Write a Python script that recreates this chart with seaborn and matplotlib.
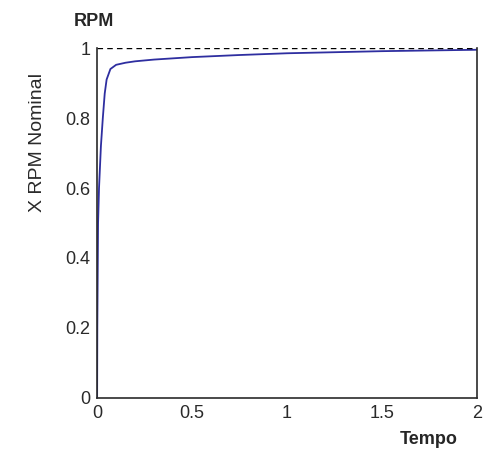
import numpy as np
import pandas as pd
import matplotlib
matplotlib.use("Agg")
import matplotlib.pyplot as plt
import seaborn as sns

# step response
tempo = [0, 0.001, 0.005, 0.01, 0.02, 0.03, 0.04, 0.05, 0.07, 0.1, 0.15, 0.2,
         0.3, 0.5, 0.75, 1.0, 1.25, 1.5, 1.75, 2.0]
rpm = [0, 0.2, 0.5, 0.6, 0.72, 0.8, 0.87, 0.91, 0.94, 0.952, 0.958, 0.962,
       0.967, 0.974, 0.98, 0.985, 0.988, 0.991, 0.993, 0.995]
ref_level = 1.0
xticks = [0, 0.5, 1, 1.5, 2]
yticks = [0, 0.2, 0.4, 0.6, 0.8, 1]

sns.set_style("white")
plt.rcParams["font.family"] = ["Liberation Sans", "DejaVu Sans"]

fig = plt.figure(figsize=(4.93, 4.5), dpi=100)
ax = fig.add_axes([0.197, 0.1156, 0.7705, 0.7777])

df = pd.DataFrame({"Tempo": tempo, "RPM": rpm})
sns.lineplot(data=df, x="Tempo", y="RPM", ax=ax, color="#2e2ea0", linewidth=1.3)
ax.axhline(ref_level, color="black", linestyle=(0, (4, 3)), linewidth=1)

ax.set_xlim(0, 2)
ax.set_ylim(0, 1)
ax.set_xticks(xticks)
ax.set_xticklabels(["0", "0.5", "1", "1.5", "2"])
ax.set_yticks(yticks)
ax.set_yticklabels(["0", "0.2", "0.4", "0.6", "0.8", "1"])
ax.tick_params(direction="in", length=4, labelsize=13, colors="#2a2a2a",
               right=False, top=False, pad=5)
ax.set_xlabel("")
ax.set_ylabel("")

for side in ["left", "bottom", "right"]:
    ax.spines[side].set_color("#2a2a2a")
    ax.spines[side].set_linewidth(1.2)
ax.spines["top"].set_visible(False)

fig.text(38 / 493, 1 - 143 / 450, "X RPM Nominal", fontsize=14, color="#2a2a2a",
         rotation=90, ha="center", va="center")
fig.text(94 / 493, 1 - 21 / 450, "RPM", fontsize=13, fontweight="bold",
         ha="center", va="center")
fig.text(429 / 493, 1 - 439 / 450, "Tempo", fontsize=13, fontweight="bold",
         ha="center", va="center")

fig.savefig("out.png", dpi=100)
